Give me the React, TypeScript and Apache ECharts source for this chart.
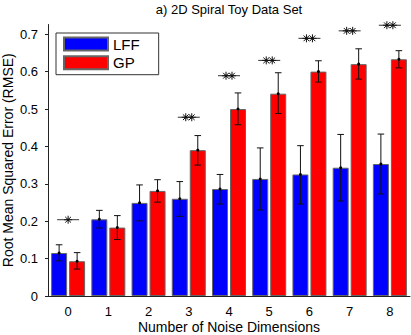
import React, { useEffect, useRef } from "react";
import * as echarts from "echarts";

const categories = ["0", "1", "2", "3", "4", "5", "6", "7", "8"];
const lffMean = [0.115, 0.205, 0.249, 0.26, 0.286, 0.313, 0.325, 0.343, 0.353];
const lffLow = [0.094, 0.182, 0.201, 0.213, 0.246, 0.23, 0.246, 0.254, 0.273];
const lffHigh = [0.137, 0.229, 0.297, 0.306, 0.325, 0.396, 0.402, 0.432, 0.433];
const gpMean = [0.093, 0.183, 0.281, 0.39, 0.5, 0.541, 0.6, 0.62, 0.633];
const gpLow = [0.072, 0.151, 0.251, 0.35, 0.458, 0.488, 0.572, 0.58, 0.61];
const gpHigh = [0.116, 0.215, 0.311, 0.429, 0.543, 0.597, 0.629, 0.661, 0.656];
const sigLevel = [0.204, null, null, 0.478, 0.589, 0.63, 0.689, 0.709, 0.724];
const sigStars = [1, 0, 0, 2, 2, 2, 2, 2, 2];

const FONT = "Liberation Sans, Arial, Helvetica, sans-serif";

export default function App() {
  const ref = useRef<HTMLDivElement>(null);
  useEffect(() => {
    document.body.style.margin = "0";
    const chart = echarts.init(ref.current!, null, { renderer: "svg" });

    const errData: number[][] = [];
    categories.forEach((_, i) => {
      errData.push([i, lffLow[i], lffHigh[i], lffMean[i], -1]);
      errData.push([i, gpLow[i], gpHigh[i], gpMean[i], 1]);
    });
    const sigData: number[][] = [];
    categories.forEach((_, i) => {
      const lv = sigLevel[i];
      if (lv !== null && sigStars[i] > 0) sigData.push([i, lv, sigStars[i]]);
    });

    const starLines = (cx: number, cy: number, r: number) => {
      const d = r * 0.72;
      const st = { stroke: "#111", lineWidth: 1 };
      return [
        { type: "line", shape: { x1: cx - r, y1: cy, x2: cx + r, y2: cy }, style: st },
        { type: "line", shape: { x1: cx, y1: cy - r, x2: cx, y2: cy + r }, style: st },
        { type: "line", shape: { x1: cx - d, y1: cy - d, x2: cx + d, y2: cy + d }, style: st },
        { type: "line", shape: { x1: cx - d, y1: cy + d, x2: cx + d, y2: cy - d }, style: st },
        { type: "circle", shape: { cx, cy, r: 1.2 }, style: { fill: "#111" } },
      ];
    };

    chart.setOption({
      animation: false,
      textStyle: { fontFamily: FONT },
      grid: { left: 48, right: 1, top: 24.5, bottom: 39, outerBoundsMode: "none", containLabel: false },
      legend: {
        data: ["LFF", "GP"],
        orient: "vertical",
        left: 56,
        top: 33,
        itemWidth: 44,
        itemHeight: 13,
        itemGap: 3.7,
        padding: [3.5, 19, 4.5, 7],
        borderColor: "#333",
        borderWidth: 1,
        backgroundColor: "#fff",
        icon: "rect",
        textStyle: { fontSize: 15, color: "#000", fontFamily: FONT },
      },
      graphic: [
        {
          type: "text",
          x: 229,
          y: 9,
          style: {
            text: "a) 2D Spiral Toy Data Set",
            fontSize: 13,
            fontFamily: FONT,
            fill: "#000",
            textAlign: "center",
            textVerticalAlign: "middle",
          },
        },
      ],
      xAxis: {
        type: "category",
        data: categories,
        axisLine: { lineStyle: { color: "#222" } },
        axisTick: { show: false },
        axisLabel: { fontSize: 13, color: "#000", margin: 9 },
        name: "Number of Noise Dimensions",
        nameLocation: "middle",
        nameGap: 24,
        nameMoveOverlap: false,
        nameTextStyle: { fontSize: 14, color: "#000" },
      },
      yAxis: {
        type: "value",
        min: 0,
        max: 0.726,
        interval: 0.1,
        splitLine: { show: false },
        axisLine: { show: true, lineStyle: { color: "#222" } },
        axisTick: { show: true, length: 3, lineStyle: { color: "#222" } },
        axisLabel: { fontSize: 13, color: "#000", margin: 10, showMaxLabel: false },
        name: "Root Mean Squared Error (RMSE)",
        nameLocation: "middle",
        nameGap: 33,
        nameMoveOverlap: false,
        nameTextStyle: { fontSize: 14, color: "#000" },
      },
      series: [
        {
          name: "LFF",
          type: "bar",
          data: lffMean,
          barWidth: 16,
          barGap: "12.5%",
          itemStyle: { color: "#0000ff", borderColor: "#666", borderWidth: 1 },
        },
        {
          name: "GP",
          type: "bar",
          data: gpMean,
          barWidth: 16,
          barGap: "12.5%",
          itemStyle: { color: "#ff0000", borderColor: "#666", borderWidth: 1 },
        },
        {
          type: "custom",
          z: 5,
          data: errData,
          renderItem: (params: any, api: any) => {
            const i = api.value(0);
            const lo = api.coord([i, api.value(1)]);
            const hi = api.coord([i, api.value(2)]);
            const mn = api.coord([i, api.value(3)]);
            const cx = lo[0] + api.value(4) * 9;
            const st = { stroke: "#111", lineWidth: 1 };
            const cap = 3.3;
            return {
              type: "group",
              children: [
                { type: "line", shape: { x1: cx, y1: lo[1], x2: cx, y2: hi[1] }, style: st },
                { type: "line", shape: { x1: cx - cap, y1: lo[1], x2: cx + cap, y2: lo[1] }, style: st },
                { type: "line", shape: { x1: cx - cap, y1: hi[1], x2: cx + cap, y2: hi[1] }, style: st },
                { type: "circle", shape: { cx, cy: mn[1], r: 1.5 }, style: { fill: "#000" } },
              ],
            };
          },
        },
        {
          type: "custom",
          z: 5,
          data: sigData,
          renderItem: (params: any, api: any) => {
            const i = api.value(0);
            const p = api.coord([i, api.value(1)]);
            const n = api.value(2);
            const children: any[] = [
              {
                type: "line",
                shape: { x1: p[0] - 11, y1: p[1], x2: p[0] + 11, y2: p[1] },
                style: { stroke: "#333", lineWidth: 1 },
              },
            ];
            if (n === 1) children.push(...starLines(p[0], p[1], 4));
            else {
              children.push(...starLines(p[0] - 3, p[1], 4));
              children.push(...starLines(p[0] + 3, p[1], 4));
            }
            return { type: "group", children };
          },
        },
      ],
    });
    return () => chart.dispose();
  }, []);
  return <div ref={ref} style={{ width: 411, height: 335 }} />;
}
